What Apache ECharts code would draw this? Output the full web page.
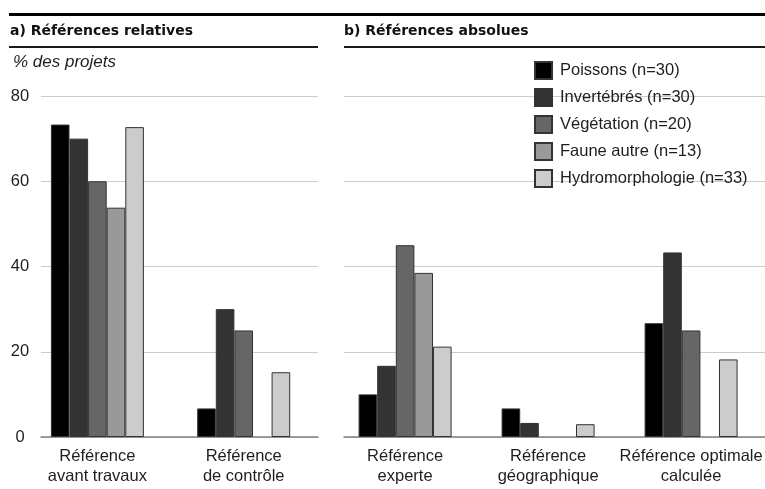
<!DOCTYPE html>
<html>
<head>
<meta charset="utf-8">
<script src="https://cdn.jsdelivr.net/npm/echarts@6/dist/echarts.min.js"></script>
<style>
html,body{margin:0;padding:0;background:#fff;}
#chart{width:765px;height:489px;}
</style>
</head>
<body>
<div id="chart"></div>
<script>
// ---- data ----
const categoriesRel = ['Référence\navant travaux', 'Référence\nde contrôle'];
const categoriesAbs = ['Référence\nexperte', 'Référence\ngéographique', 'Référence optimale\ncalculée'];
const seriesNames = ['Poissons (n=30)', 'Invertébrés (n=30)', 'Végétation (n=20)', 'Faune autre (n=13)', 'Hydromorphologie (n=33)'];
const seriesColors = ['#000000', '#333333', '#666666', '#999999', '#cccccc'];

// null = no bar drawn in the reference
const poissonsRel = [73.3, 6.7];
const invertebresRel = [70.0, 30.0];
const vegetationRel = [60.0, 25.0];
const fauneRel = [53.8, null];
const hydroRel = [72.7, 15.2];

const poissonsAbs = [10.0, 6.7, 26.7];
const invertebresAbs = [16.7, 3.3, 43.3];
const vegetationAbs = [45.0, null, 25.0];
const fauneAbs = [38.5, null, null];
const hydroAbs = [21.2, 3.0, 18.2];

const yMin = 0, yMax = 80, yStep = 20;
const titleRel = 'a) Références relatives';
const titleAbs = 'b) Références absolues';
const yTitle = '% des projets';

const relValues = [poissonsRel, invertebresRel, vegetationRel, fauneRel, hydroRel];
const absValues = [poissonsAbs, invertebresAbs, vegetationAbs, fauneAbs, hydroAbs];

// ---- chart ----
const chart = echarts.init(document.getElementById('chart'), null, {renderer: 'canvas'});
const FONT = 'Liberation Sans, Arial, sans-serif';
const TXT = '#1e1e1e';
const PLOT_TOP = 96, PLOT_H = 341;

const catLabel = {interval: 0, fontFamily: FONT, fontSize: 16.5, lineHeight: 20, color: TXT, margin: 9};

const series = [];
seriesNames.forEach((name, i) => {
  const style = {color: seriesColors[i], borderColor: '#333333', borderWidth: 1};
  series.push({name, type: 'bar', xAxisIndex: 1, yAxisIndex: 1, data: relValues[i],
    barWidth: 18.6, barGap: '0%', itemStyle: style, silent: true});
  series.push({name, type: 'bar', xAxisIndex: 3, yAxisIndex: 3, data: absValues[i],
    barWidth: 18.6, barGap: '0%', itemStyle: style, silent: true});
});

const gridAxisX = (gi) => ({gridIndex: gi, type: 'value', min: 0, max: 1,
  axisLine: {show: true, lineStyle: {color: '#808080', width: 1.5}},
  axisTick: {show: false}, axisLabel: {show: false}, splitLine: {show: false}});
const hiddenY = (gi) => ({gridIndex: gi, type: 'value', min: yMin, max: yMax, interval: yStep, show: false});

const option = {
  animation: false,
  backgroundColor: '#ffffff',
  grid: [
    {left: 41, width: 277, top: PLOT_TOP, height: PLOT_H},
    {left: 24.25, width: 292.6, top: PLOT_TOP, height: PLOT_H},
    {left: 344, width: 421, top: PLOT_TOP, height: PLOT_H},
    {left: 333.6, width: 432.9, top: PLOT_TOP, height: PLOT_H}
  ],
  xAxis: [
    gridAxisX(0),
    {gridIndex: 1, type: 'category', data: categoriesRel, axisLine: {show: false}, axisTick: {show: false}, axisLabel: catLabel},
    gridAxisX(2),
    {gridIndex: 3, type: 'category', data: categoriesAbs, axisLine: {show: false}, axisTick: {show: false}, axisLabel: catLabel}
  ],
  yAxis: [
    {gridIndex: 0, type: 'value', min: yMin, max: yMax, interval: yStep,
      axisLine: {show: false}, axisTick: {show: false},
      splitLine: {show: true, lineStyle: {color: '#cccccc', width: 1}},
      axisLabel: {fontFamily: FONT, fontSize: 16.5, color: TXT, align: 'center', margin: 21}},
    hiddenY(1),
    {gridIndex: 2, type: 'value', min: yMin, max: yMax, interval: yStep,
      axisLine: {show: false}, axisTick: {show: false},
      splitLine: {show: true, lineStyle: {color: '#cccccc', width: 1}},
      axisLabel: {show: false}},
    hiddenY(3)
  ],
  legend: {
    data: seriesNames,
    orient: 'vertical', left: 534, top: 61, padding: 0,
    itemWidth: 17, itemHeight: 17, itemGap: 8,
    icon: 'rect', selectedMode: false,
    textStyle: {fontFamily: FONT, fontSize: 16.5, color: TXT, padding: [0, 0, 0, 3]}
  },
  graphic: [
    {type: 'line', shape: {x1: 9, y1: 14.5, x2: 765, y2: 14.5}, style: {stroke: '#000', lineWidth: 3}},
    {type: 'line', shape: {x1: 9, y1: 47, x2: 318, y2: 47}, style: {stroke: '#1a1a1a', lineWidth: 2}},
    {type: 'line', shape: {x1: 344, y1: 47, x2: 765, y2: 47}, style: {stroke: '#1a1a1a', lineWidth: 2}},
    {type: 'text', x: 10, y: 31, style: {text: titleRel, font: 'bold 14px DejaVu Sans', fill: '#111', verticalAlign: 'middle'}},
    {type: 'text', x: 344, y: 31, style: {text: titleAbs, font: 'bold 14px DejaVu Sans', fill: '#111', verticalAlign: 'middle'}},
    {type: 'text', x: 13, y: 62, style: {text: yTitle, font: 'italic 17px Liberation Sans', fill: TXT, verticalAlign: 'middle'}}
  ],
  series
};
chart.setOption(option);
</script>
</body>
</html>
